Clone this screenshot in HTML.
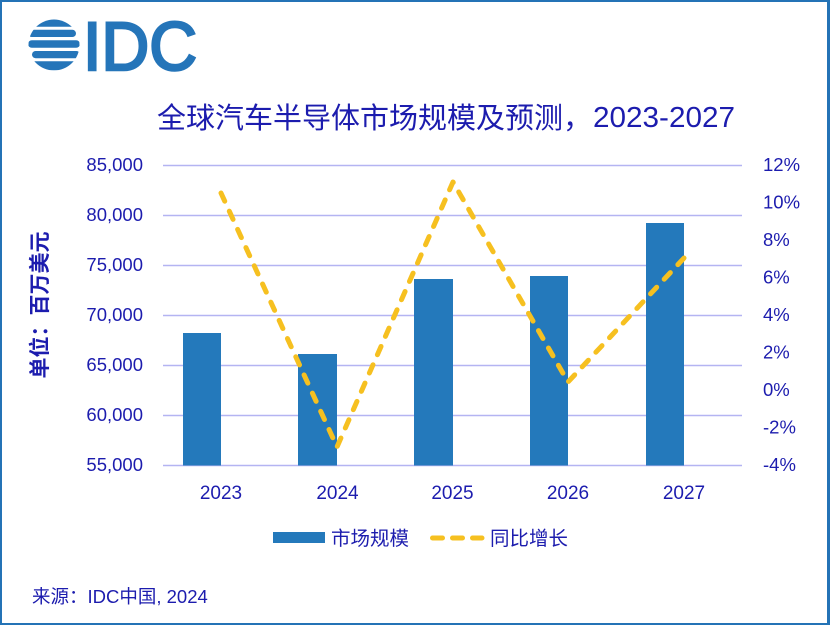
<!DOCTYPE html>
<html>
<head>
<meta charset="utf-8">
<style>
  html, body { margin: 0; padding: 0; background: #ffffff; }
  body { width: 830px; height: 625px; overflow: hidden; }
  svg { display: block; }
  text { font-family: "Liberation Sans", "Noto Sans CJK SC", sans-serif; fill: #1c1cae; }
</style>
</head>
<body>
<svg width="830" height="625" viewBox="0 0 830 625" xmlns="http://www.w3.org/2000/svg">
  <rect x="0" y="0" width="830" height="625" fill="#ffffff"/>
  <!-- border -->
  <rect x="0" y="0" width="830" height="2" fill="#2473b6"/>
  <rect x="0" y="623" width="830" height="2" fill="#2473b6"/>
  <rect x="0" y="0" width="2" height="625" fill="#2473b6"/>
  <rect x="827" y="0" width="3" height="625" fill="#2473b6"/>

  <!-- logo -->
  <defs>
    <clipPath id="globe"><circle cx="54" cy="45" r="25.5"/></clipPath>
  </defs>
  <g clip-path="url(#globe)" fill="#2575b9">
    <rect x="28" y="19.5" width="52" height="7.2" rx="3.6"/>
    <rect x="28" y="29.8" width="48" height="7.2" rx="3.6"/>
    <rect x="28" y="40.2" width="52" height="7.6" rx="3.8"/>
    <rect x="32" y="51" width="48" height="7.2" rx="3.6"/>
    <rect x="28" y="61.3" width="52" height="9" rx="3.6"/>
  </g>
  <text x="83" y="70" font-size="69" textLength="114" lengthAdjust="spacingAndGlyphs" style="fill:#2575b9;stroke:#2575b9;stroke-width:2.6">IDC</text>

  <!-- title -->
  <text x="157" y="128" font-size="29" style="font-family:'Noto Sans CJK SC','Liberation Sans',sans-serif">全球汽车半导体市场规模及预测，</text>
  <text x="593" y="127" font-size="29" textLength="142" lengthAdjust="spacingAndGlyphs">2023-2027</text>

  <!-- gridlines -->
  <g stroke="#b4b4f2" stroke-width="1.6">
    <line x1="163" y1="165.5" x2="742" y2="165.5"/>
    <line x1="163" y1="215.5" x2="742" y2="215.5"/>
    <line x1="163" y1="265.5" x2="742" y2="265.5"/>
    <line x1="163" y1="315.5" x2="742" y2="315.5"/>
    <line x1="163" y1="365.5" x2="742" y2="365.5"/>
    <line x1="163" y1="415.5" x2="742" y2="415.5"/>
    <line x1="163" y1="465.5" x2="742" y2="465.5"/>
  </g>

  <!-- left axis labels -->
  <g font-size="18.5" text-anchor="end">
    <text x="143" y="171">85,000</text>
    <text x="143" y="221">80,000</text>
    <text x="143" y="271">75,000</text>
    <text x="143" y="321">70,000</text>
    <text x="143" y="371">65,000</text>
    <text x="143" y="421">60,000</text>
    <text x="143" y="471">55,000</text>
  </g>

  <!-- right axis labels -->
  <g font-size="18.5">
    <text x="763" y="171">12%</text>
    <text x="763" y="208.5">10%</text>
    <text x="763" y="246">8%</text>
    <text x="763" y="283.5">6%</text>
    <text x="763" y="321">4%</text>
    <text x="763" y="358.5">2%</text>
    <text x="763" y="396">0%</text>
    <text x="763" y="433.5">-2%</text>
    <text x="763" y="471">-4%</text>
  </g>

  <!-- y axis title -->
  <text transform="translate(47,305) rotate(-90)" font-size="21" font-weight="bold" text-anchor="middle" style="font-family:'Noto Sans CJK SC','Liberation Sans',sans-serif">单位：百万美元</text>

  <!-- bars -->
  <g fill="#2479bb">
    <rect x="183" y="333" width="38" height="132.5"/>
    <rect x="298" y="354" width="39" height="111.5"/>
    <rect x="414" y="279" width="39" height="186.5"/>
    <rect x="530" y="276" width="38" height="189.5"/>
    <rect x="646" y="223" width="38" height="242.5"/>
  </g>

  <!-- line -->
  <polyline points="221,193 337,447 453,182 568,382 685,257" fill="none" stroke="#f6c020" stroke-width="5" stroke-linecap="round" stroke-linejoin="round" stroke-dasharray="9 11"/>

  <!-- category labels -->
  <g font-size="19" text-anchor="middle">
    <text x="221" y="499">2023</text>
    <text x="337.5" y="499">2024</text>
    <text x="452.5" y="499">2025</text>
    <text x="568" y="499">2026</text>
    <text x="684" y="499">2027</text>
  </g>

  <!-- legend -->
  <rect x="273" y="532" width="52" height="11" fill="#2479bb"/>
  <text x="331" y="545" font-size="19.5" style="font-family:'Noto Sans CJK SC','Liberation Sans',sans-serif">市场规模</text>
  <line x1="432.5" y1="538" x2="482" y2="538" stroke="#f6c020" stroke-width="5" stroke-linecap="round" stroke-dasharray="10 10"/>
  <text x="490" y="545" font-size="19.5" style="font-family:'Noto Sans CJK SC','Liberation Sans',sans-serif">同比增长</text>

  <!-- source -->
  <text x="32" y="603" font-size="18.5">来源：IDC中国, 2024</text>
</svg>
</body>
</html>
